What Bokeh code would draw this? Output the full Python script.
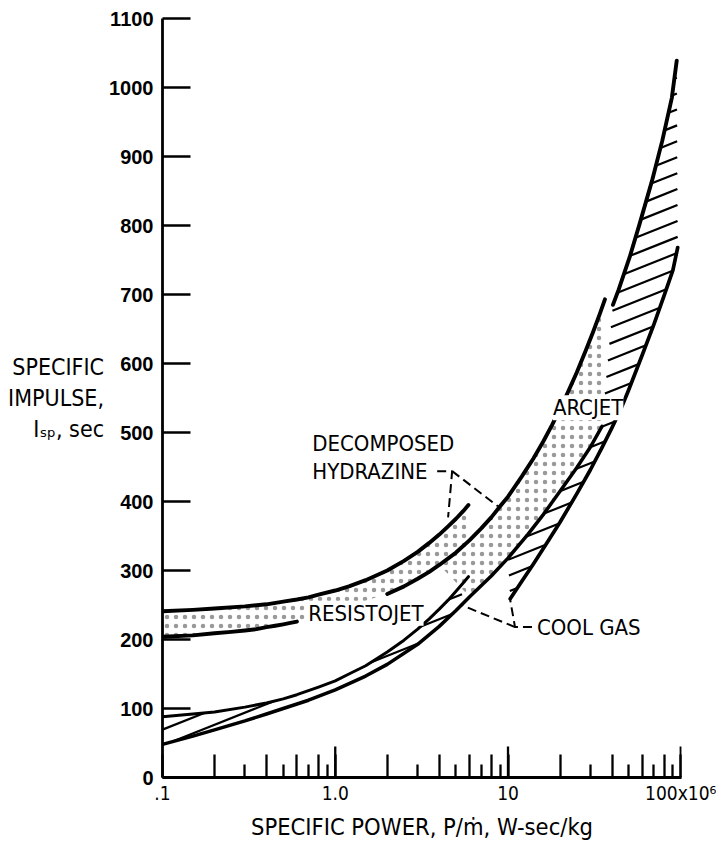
import numpy as np
from bokeh.plotting import figure
from bokeh.models import Range1d, FixedTicker, Label
from bokeh.embed import file_html
from bokeh.resources import INLINE

# ---------------- data (x: specific power in 10^6 W-sec/kg, y: Isp in sec) -------------
# resistojet, decomposed hydrazine: upper boundary
res_hyd_top_x = [0.1, 0.15, 0.2, 0.3, 0.4, 0.5, 0.6, 0.7, 0.8, 1.0, 1.2, 1.5, 2.0, 2.5,
                 3.0, 3.5, 4.0, 4.5, 5.0, 5.5, 5.9]
res_hyd_top_y = [241, 243, 245, 248, 251, 255, 258, 261, 265, 271, 277, 286, 300, 314,
                 327, 340, 352, 364, 375, 386, 395]
# resistojet, decomposed hydrazine: lower boundary (left of label)
res_hyd_low_x = [0.1, 0.15, 0.2, 0.25, 0.3, 0.35, 0.4, 0.45, 0.5, 0.55, 0.6]
res_hyd_low_y = [204, 206, 209, 211, 213, 215, 218, 220, 222, 224, 226]
# arcjet, decomposed hydrazine: upper boundary
arc_hyd_top_x = [2.0, 2.5, 3.0, 3.5, 4.0, 5.0, 6.0, 7.0, 8.0, 9.0, 10, 12, 14, 16, 18,
                 20, 22, 25, 28, 31, 34, 36.4]
arc_hyd_top_y = [266, 277, 288, 298, 308, 326, 344, 361, 377, 393, 407, 436, 462, 487, 511,
                 534, 556, 587, 617, 645, 672, 693]
# resistojet, cool gas: upper boundary
res_cool_top_x = [0.1, 0.15, 0.2, 0.3, 0.4, 0.5, 0.6, 0.8, 1.0, 1.2, 1.5, 2.0, 2.5, 3.0,
                  3.5, 4.0, 4.5, 5.0, 5.5, 5.9]
res_cool_top_y = [88, 92, 95, 102, 108, 114, 120, 131, 140, 150, 162, 182, 199, 215,
                  230, 244, 257, 270, 282, 291]
# resistojet cool gas lower boundary, continuing as arcjet cool gas upper boundary
cool_mid_x = [0.1, 0.15, 0.2, 0.3, 0.4, 0.5, 0.7, 1.0, 1.5, 2.0, 3.0, 4.0, 5.0, 6.0, 8.0,
              10, 13, 16, 20, 25, 30, 35]
cool_mid_y = [48, 60, 69, 82, 92, 100, 112, 127, 147, 164, 193, 219, 242, 262, 292,
              318, 352, 381, 415, 449, 479, 509]
# arcjet, cool gas: lower boundary
arc_cool_low_x = [10.3, 12, 14, 17, 20, 25, 30, 35, 40, 45, 50, 60, 70, 80, 90, 96]
arc_cool_low_y = [259, 284, 309, 342, 370, 411, 446, 478, 507, 534, 562, 613, 657, 698, 735, 768]
# arcjet, cool gas: upper boundary at high power
arc_cool_top_x = [40.5, 43.7, 50.6, 57.9, 68.2, 78.2, 88.8, 94.8]
arc_cool_top_y = [685, 707, 754, 803, 865, 923, 985, 1039]

# axis ticks and labels
y_ticks = [0, 100, 200, 300, 400, 500, 600, 700, 800, 900, 1000, 1100]
x_major_ticks = [0.1, 0.2, 0.4, 0.6, 0.8, 1, 2, 4, 6, 8, 10, 20, 40, 60, 80, 100]
x_minor_ticks = [0.3, 0.5, 0.7, 0.9, 3, 5, 7, 9, 30, 50, 70, 90]
x_decades = [1, 10, 100]
x_tick_labels = {0.1: ".1", 1: "1.0", 10: "10", 100: "100x10\u2076"}
x_title = "SPECIFIC POWER, P/\u1e41, W-sec/kg"
y_title = "SPECIFIC\nIMPULSE,\nI\u209b\u209a, sec"

# annotation anchors
lbl_text = ["DECOMPOSED", "HYDRAZINE", "RESISTOJET", "ARCJET", "COOL GAS"]
lbl_x = [0.736, 0.736, 0.698, 18.2, 14.7]
lbl_y = [471, 431, 225, 523, 204]
hyd_leader_xs = [[3.89, 4.75, 4.50], [4.75, 8.75]]
hyd_leader_ys = [[444, 444, 377], [444, 393]]
cool_leader_xs = [[13.76, 10.98, 10.27], [10.98, 5.49]]
cool_leader_ys = [[218, 218, 259], [218, 249]]

# ---------------- layout ----------------
X0, X1 = 0.1, 101
FRAME_W, FRAME_H = 519, 761
BL, BT = 162, 18
W, H = 716, 843
BR = W - BL - FRAME_W
BB = H - BT - FRAME_H
LOG0 = np.log10(X0)
PPD = FRAME_W / (np.log10(X1) - LOG0)
PPU = FRAME_H / 1100.0

FONT = "DejaVu Sans Condensed"
NUMFONT = "Liberation Sans"

p = figure(width=W, height=H, x_axis_type="log",
           x_range=Range1d(X0, X1), y_range=Range1d(0, 1100),
           output_backend="svg", toolbar_location=None,
           min_border_left=BL, min_border_right=BR,
           min_border_top=BT, min_border_bottom=BB)
p.outline_line_color = None
p.grid.visible = False
p.background_fill_color = "white"
p.border_fill_color = "white"

# axes
xa = p.xaxis[0]
xa.ticker = FixedTicker(ticks=x_major_ticks, minor_ticks=x_minor_ticks)
xa.major_label_overrides = {v: x_tick_labels.get(v, "") for v in x_major_ticks}
xa.major_tick_in = 23
xa.major_tick_out = 0
xa.minor_tick_in = 13
xa.minor_tick_out = 0
xa.axis_line_width = 2.8
xa.major_tick_line_width = 2.3
xa.minor_tick_line_width = 2.3
xa.major_label_standoff = 4
xa.major_label_text_font = FONT
xa.major_label_text_font_size = "19px"
xa.major_label_text_color = "black"
xa.axis_label = x_title
xa.axis_label_text_font = FONT
xa.axis_label_text_font_size = "23.5px"
xa.axis_label_text_font_style = "normal"
xa.axis_label_text_color = "black"
xa.axis_label_standoff = 6

ya = p.yaxis[0]
ya.ticker = FixedTicker(ticks=y_ticks)
ya.major_tick_in = 28
ya.major_tick_out = 0
ya.minor_tick_line_color = None
ya.axis_line_width = 2.8
ya.major_tick_line_width = 2.3
ya.major_label_standoff = 9
ya.major_label_text_font = NUMFONT
ya.major_label_text_font_style = "bold"
ya.major_label_text_font_size = "20px"
ya.major_label_text_color = "black"
ya.axis_label = y_title
ya.axis_label_orientation = "horizontal"
ya.axis_label_text_align = "center"
ya.axis_label_text_font = FONT
ya.axis_label_text_font_size = "23px"
ya.axis_label_text_font_style = "normal"
ya.axis_label_text_color = "black"
ya.axis_label_standoff = 2

# longer decade ticks on the x axis
p.ray(x=x_decades, y=[0] * len(x_decades), length=31, length_units="screen",
      angle=90, angle_units="deg", line_width=2.3, color="black")


def to_screen(xs, ys):
    return (np.log10(np.asarray(xs, float)) - LOG0) * PPD, np.asarray(ys, float) * PPU


def hatch_segments(px, py, slope=0.40, step=16.0, phase=0.0):
    sx, sy = to_screen(px, py)
    f = sy - slope * sx
    cs = np.arange(np.floor((f.min() - phase) / step) * step + phase, f.max(), step)
    x0, y0, x1, y1 = [], [], [], []
    n = len(sx)
    for c in cs:
        cross = []
        for i in range(n):
            j = (i + 1) % n
            a, b = f[i] - c, f[j] - c
            if (a > 0) != (b > 0):
                t = a / (a - b)
                cross.append(sx[i] + t * (sx[j] - sx[i]))
        cross.sort()
        for k in range(0, len(cross) - 1, 2):
            u0, u1 = cross[k], cross[k + 1]
            x0.append(10 ** (u0 / PPD + LOG0)); y0.append((slope * u0 + c) / PPU)
            x1.append(10 ** (u1 / PPD + LOG0)); y1.append((slope * u1 + c) / PPU)
    return x0, y0, x1, y1


# ---- stippled bands (decomposed hydrazine) ----
c_left = [(x, y) for x, y in zip(arc_hyd_top_x, arc_hyd_top_y) if x <= 6]
st1_x = res_hyd_top_x + [x for x, _ in c_left][::-1] + res_hyd_low_x[::-1]
st1_y = res_hyd_top_y + [y for _, y in c_left][::-1] + res_hyd_low_y[::-1]
c_right = [(x, y) for x, y in zip(arc_hyd_top_x, arc_hyd_top_y) if x >= 4]
m_right = [(x, y) for x, y in zip(cool_mid_x, cool_mid_y) if x >= 5.5]
st2_x = [x for x, _ in c_right] + [x for x, _ in m_right][::-1]
st2_y = [y for _, y in c_right] + [y for _, y in m_right][::-1]
for sx_, sy_ in [(st1_x, st1_y), (st2_x, st2_y)]:
    p.patch(sx_, sy_, fill_color=None, line_color=None, hatch_pattern=".",
            hatch_color="black", hatch_scale=9, hatch_weight=1.0, hatch_alpha=0.4)

# ---- hatched bands (cool gas) ----
h1 = [(x, y) for x, y in zip(cool_mid_x, cool_mid_y) if x <= 5.5]
hb1_x = res_cool_top_x + [x for x, _ in h1][::-1]
hb1_y = res_cool_top_y + [y for _, y in h1][::-1]
h2 = [(x, y) for x, y in zip(cool_mid_x, cool_mid_y) if x >= 10]
hb2_x = [x for x, _ in h2] + arc_cool_top_x + arc_cool_low_x[::-1]
hb2_y = [y for _, y in h2] + arc_cool_top_y + arc_cool_low_y[::-1]
for bx, by in [(hb1_x, hb1_y), (hb2_x, hb2_y)]:
    x0, y0, x1, y1 = hatch_segments(bx, by)
    p.segment(x0=x0, y0=y0, x1=x1, y1=y1, line_width=2.2, color="black")

# ---- boundary curves ----
curves = [
    (res_hyd_top_x, res_hyd_top_y, 3.9),
    (res_hyd_low_x, res_hyd_low_y, 3.9),
    (arc_hyd_top_x, arc_hyd_top_y, 3.9),
    (res_cool_top_x, res_cool_top_y, 3.0),
    (cool_mid_x, cool_mid_y, 3.5),
    (arc_cool_low_x, arc_cool_low_y, 3.7),
    (arc_cool_top_x, arc_cool_top_y, 3.9),
]
for cx, cy, lw in curves:
    p.line(cx, cy, line_width=lw, color="black", line_cap="round", line_join="round")

# leader lines
p.multi_line(xs=hyd_leader_xs + cool_leader_xs, ys=hyd_leader_ys + cool_leader_ys,
             line_width=2, color="black", line_dash="9 5")

# in-plot labels
for t, lx, ly in zip(lbl_text, lbl_x, lbl_y):
    p.add_layout(Label(x=lx, y=ly, text=t, y_offset=9, text_font=FONT,
                       text_font_size="22px", text_baseline="alphabetic",
                       text_align="left", text_color="black",
                       background_fill_color="white", background_fill_alpha=1.0))

open("out.html", "w").write(file_html(p, INLINE))
